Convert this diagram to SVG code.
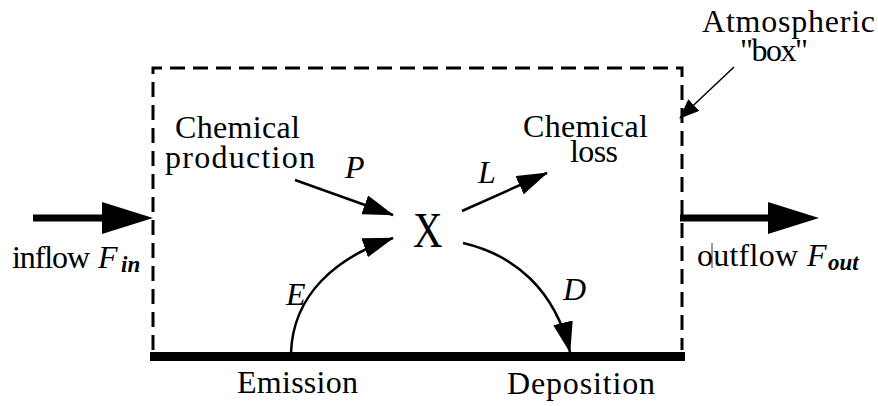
<svg xmlns="http://www.w3.org/2000/svg" width="878" height="406" viewBox="0 0 878 406">
<defs>
<style>
.t{font-family:"Liberation Serif","Times New Roman",serif;font-size:32px;fill:#000}
.i{font-family:"Liberation Serif","Times New Roman",serif;font-style:italic;font-size:32px;fill:#000}
.sub{font-family:"Liberation Serif","Times New Roman",serif;font-style:italic;font-weight:bold;font-size:23px;fill:#000}
.box{fill:none;stroke:#000;stroke-width:3;stroke-dasharray:15 8}
.ln{fill:none;stroke:#000;stroke-width:2.5}
.big{fill:none;stroke:#000;stroke-width:7}
</style>
<marker id="h" markerUnits="userSpaceOnUse" markerWidth="32" markerHeight="20" refX="30" refY="10" orient="auto"><path d="M0,0 L31,10 L0,20 z" fill="#000"/></marker>
<marker id="hs" markerUnits="userSpaceOnUse" markerWidth="22" markerHeight="16" refX="19" refY="8" orient="auto"><path d="M0,0 L20,8 L0,16 z" fill="#000"/></marker>
</defs>
<g id="atmosphere-box">
<path class="box" d="M153,350 V68 H682 V350"/>
<rect x="150" y="352" width="535" height="9" fill="#000"/>
</g>
<g id="connectors">
<line class="big" x1="33" y1="218" x2="104" y2="218"/>
<path d="M102,202 L153,218 L102,234 z" fill="#000"/>
<line class="big" x1="680" y1="218" x2="770" y2="218"/>
<path d="M768,202 L819,218 L768,234 z" fill="#000"/>
<line class="ln" x1="295" y1="180" x2="393" y2="215" marker-end="url(#h)"/>
<line class="ln" x1="462" y1="211" x2="547" y2="173" marker-end="url(#h)"/>
<path class="ln" d="M291,353 C293,295 335,258 393,238" marker-end="url(#h)"/>
<path class="ln" d="M463,243 C515,255 555,290 570,352" marker-end="url(#h)"/>
<line x1="734" y1="67" x2="680" y2="118" stroke="#000" stroke-width="1.5" marker-end="url(#hs)"/>
</g>
<g id="inflow">
<text class="t" x="12" y="268" textLength="78">inflow</text>
<text class="i" x="98" y="268">F</text>
<text class="sub" x="121" y="272">in</text>
</g>
<g id="outflow">
<text class="t" x="697" y="266" textLength="101">outflow</text>
<text class="i" x="807" y="266">F</text>
<text class="sub" x="828" y="270">out</text>
<line x1="712" y1="243" x2="712" y2="268" stroke="#000" stroke-width="0.8"/>
</g>
<g id="production">
<text class="t" x="175" y="138" textLength="125">Chemical</text>
<text class="t" x="165" y="168" textLength="150">production</text>
<text class="i" x="345" y="178">P</text>
</g>
<g id="x-node">
<text class="t" x="0" y="0" style="font-size:50px" transform="translate(413,247) scale(0.82,1)">X</text>
</g>
<g id="loss">
<text class="t" x="523" y="137" textLength="125">Chemical</text>
<text class="t" x="570" y="162" textLength="48">loss</text>
<text class="i" x="478" y="183">L</text>
</g>
<g id="emission">
<text class="i" x="286" y="305">E</text>
<text class="t" x="237" y="393" textLength="121">Emission</text>
</g>
<g id="deposition">
<text class="i" x="563" y="300">D</text>
<text class="t" x="507" y="394" textLength="148">Deposition</text>
</g>
<g id="label-box">
<text class="t" x="702" y="32" textLength="173">Atmospheric</text>
<text class="t" x="740" y="61" textLength="68">"box"</text>
</g>
</svg>
